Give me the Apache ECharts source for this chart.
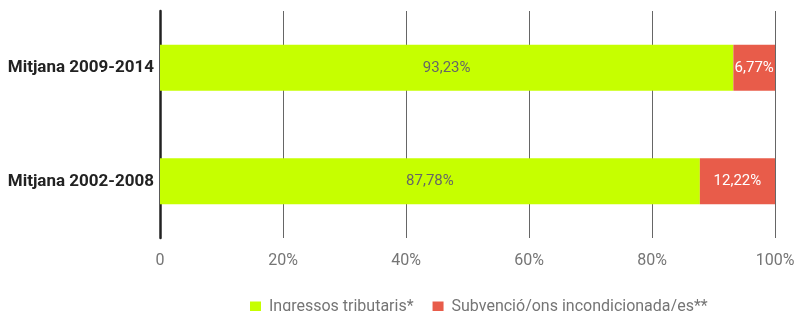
<!DOCTYPE html>
<html>
<head>
<meta charset="utf-8">
<script src="https://cdn.jsdelivr.net/npm/echarts@6/dist/echarts.min.js"></script>
<style>
  html, body { margin: 0; padding: 0; background: #fff; }
  #chart { width: 798px; height: 311px; }
</style>
</head>
<body>
<div id="chart"></div>
<script>
var categories = ['Mitjana 2009-2014', 'Mitjana 2002-2008'];
var tributaris = [93.23, 87.78];
var subvencions = [6.77, 12.22];
var xTicks = [0, 20, 40, 60, 80, 100];

function pct(v) {
  return v.toFixed(2).replace('.', ',') + '%';
}

var chart = echarts.init(document.getElementById('chart'));
chart.setOption({
  animation: false,
  textStyle: { fontFamily: 'Roboto' },
  grid: { left: 160, right: 23, top: 11, bottom: 73 },
  legend: {
    bottom: -9,
    left: 245,
    itemWidth: 11,
    itemHeight: 11,
    itemGap: 19,
    icon: 'rect',
    textStyle: { fontSize: 16, color: '#757575', fontFamily: 'Roboto', padding: [0, 0, 0, 3] },
    data: ['Ingressos tributaris*', 'Subvenció/ons incondicionada/es**']
  },
  xAxis: {
    type: 'value',
    min: 0,
    max: 100,
    interval: 20,
    axisLine: { show: false },
    axisTick: { show: false },
    splitLine: { show: true, lineStyle: { color: '#666', width: 1 } },
    axisLabel: {
      fontSize: 16,
      color: '#757575',
      margin: 15,
      formatter: function (v) { return xTicks.indexOf(v) === 0 ? '0' : v + '%'; }
    }
  },
  yAxis: {
    type: 'category',
    inverse: true,
    data: categories,
    axisLine: { show: true, lineStyle: { color: '#222', width: 2.5 } },
    axisTick: { show: false },
    axisLabel: { fontSize: 17, fontWeight: 'bold', color: '#222', margin: 6 }
  },
  series: [
    {
      name: 'Ingressos tributaris*',
      type: 'bar',
      stack: 'total',
      barWidth: 46,
      itemStyle: { color: '#c6ff00' },
      label: {
        show: true,
        position: 'inside',
        color: '#666',
        fontSize: 15,
        formatter: function (p) { return pct(p.value); }
      },
      data: tributaris
    },
    {
      name: 'Subvenció/ons incondicionada/es**',
      type: 'bar',
      stack: 'total',
      barWidth: 46,
      itemStyle: { color: '#e85c4a' },
      label: {
        show: true,
        position: 'inside',
        color: '#fff',
        fontSize: 15,
        formatter: function (p) { return pct(p.value); }
      },
      data: subvencions
    }
  ]
});
</script>
</body>
</html>
